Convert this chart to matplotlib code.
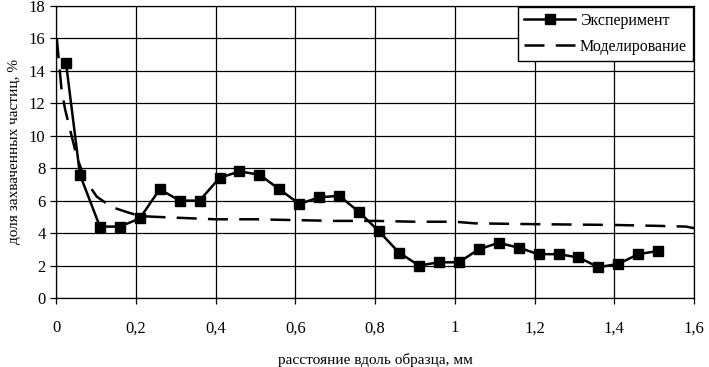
import matplotlib
matplotlib.use("Agg")
import matplotlib.pyplot as plt
from matplotlib.ticker import FuncFormatter

plt.rcParams['font.family'] = ['Liberation Serif', 'DejaVu Serif']

exp_x = [0.025, 0.06, 0.11, 0.16, 0.21, 0.26, 0.31, 0.36, 0.41, 0.46, 0.51, 0.56, 0.61, 0.66, 0.71, 0.76,
         0.81, 0.86, 0.91, 0.96, 1.01, 1.06, 1.11, 1.16, 1.21, 1.26, 1.31, 1.36, 1.41, 1.46, 1.51]
exp_y = [14.5, 7.6, 4.4, 4.4, 4.9, 6.7, 6.0, 6.0, 7.4, 7.8, 7.6, 6.7, 5.8, 6.2, 6.3, 5.3,
         4.1, 2.8, 2.0, 2.2, 2.2, 3.0, 3.4, 3.1, 2.7, 2.7, 2.5, 1.9, 2.1, 2.7, 2.9]

mod_x = [0.002, 0.014, 0.023, 0.039, 0.052, 0.073, 0.102, 0.14, 0.177, 0.21, 0.25, 0.3, 0.35, 0.4,
         0.5, 0.6, 0.7, 0.8, 0.9, 1.0, 1.05, 1.2, 1.4, 1.5, 1.58, 1.6]
mod_y = [16.0, 12.8, 11.6, 10.0, 8.7, 7.3, 6.25, 5.6, 5.3, 5.05, 5.0, 4.95, 4.9, 4.85,
         4.85, 4.8, 4.75, 4.75, 4.7, 4.7, 4.6, 4.55, 4.5, 4.45, 4.4, 4.3]

x_label = "расстояние вдоль образца, мм"
y_label = "доля захваченных частиц, %"
legend_labels = ["Эксперимент", "Моделирование"]

fig = plt.figure(figsize=(7.09, 3.67), dpi=100)
ax = fig.add_axes([0.079, 0.188, 0.900, 0.796])

ax.plot(exp_x, exp_y, color='black', lw=1.8, marker='s', ms=6.5, label=legend_labels[0], zorder=3)
ax.plot(mod_x, mod_y, color='black', lw=1.8, dashes=(8, 4.5), label=legend_labels[1], zorder=3)

ax.set_xlim(0, 1.6)
ax.set_ylim(0, 18)
ax.set_xticks([0, 0.2, 0.4, 0.6, 0.8, 1.0, 1.2, 1.4, 1.6])
ax.set_yticks(range(0, 19, 2))
ax.xaxis.set_major_formatter(FuncFormatter(lambda v, p: ('%g' % v).replace('.', ',')))
ax.grid(True, color='black', lw=0.9)
ax.set_axisbelow(True)
for s in ax.spines.values():
    s.set_color('black')
    s.set_linewidth(0.9)
ax.tick_params(axis='both', labelsize=12, color='black', length=4, width=0.9, direction='out')
ax.tick_params(axis='x', pad=12)

ax.set_xlabel(x_label, fontsize=11, labelpad=12)
ax.set_ylabel(y_label, fontsize=11, labelpad=6)

leg = ax.legend(loc='upper right', fontsize=11.5, frameon=True, fancybox=False,
                edgecolor='black', framealpha=1, borderaxespad=0.05, handlelength=3.2,
                borderpad=0.4, labelspacing=0.6, handletextpad=0.3)
leg.get_frame().set_linewidth(1.0)

fig.savefig("out.png", dpi=100)
